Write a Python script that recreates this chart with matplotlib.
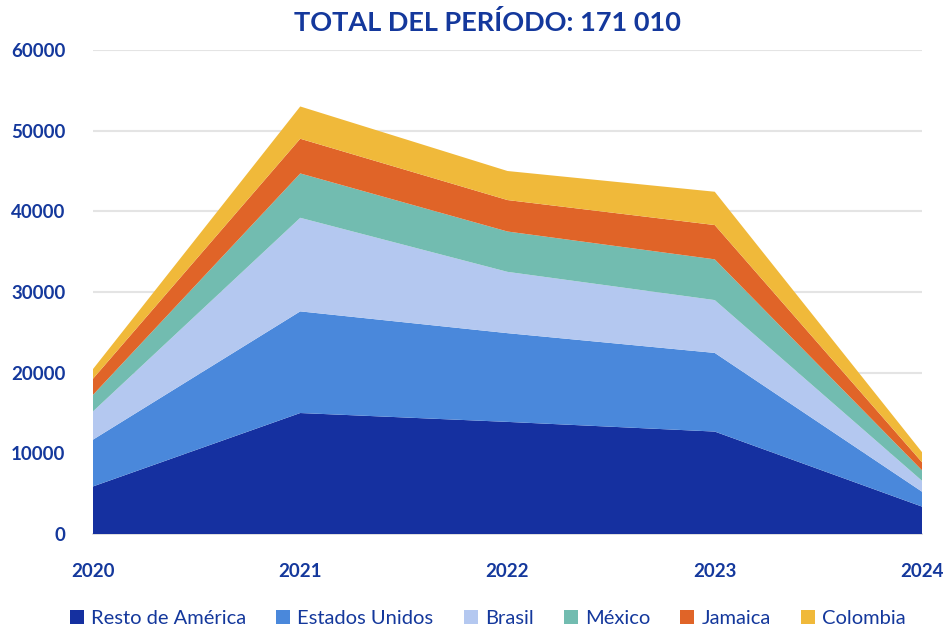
import numpy as np
import matplotlib.pyplot as plt
from matplotlib.patches import Patch

plt.rcParams['font.family'] = ['Lato', 'DejaVu Sans']

anios = [2020, 2021, 2022, 2023, 2024]
resto_america = [5900, 15000, 13900, 12700, 3400]
estados_unidos = [5800, 12600, 11000, 9750, 1850]
brasil = [3500, 11600, 7600, 6550, 1350]
mexico = [2050, 5500, 5000, 5050, 1300]
jamaica = [2000, 4300, 3900, 4250, 1000]
colombia = [1200, 4000, 3600, 4130, 1250]

nombres = ['Resto de América', 'Estados Unidos', 'Brasil', 'México', 'Jamaica', 'Colombia']
colores = ['#1530a0', '#4a88db', '#b4c8f0', '#72bcb0', '#e06428', '#f0b93a']
azul = '#14389c'

fig = plt.figure(figsize=(9.47, 6.29), dpi=100)
ax = fig.add_axes([0.0982, 0.151, 0.8754, 0.7695])

series = [resto_america, estados_unidos, brasil, mexico, jamaica, colombia]
ax.stackplot(anios, *series, colors=colores, linewidth=0, zorder=3)

ax.set_xlim(2020, 2024)
ax.set_ylim(0, 60000)
ax.set_yticks(np.arange(0, 60001, 10000))
ax.set_xticks(anios)
ax.grid(axis='y', color='#e4e4e4', linewidth=1.5, zorder=0)
for s in ['top', 'right', 'left']:
	ax.spines[s].set_visible(False)
ax.spines['bottom'].set_color('#d8d8d8')
ax.spines['bottom'].set_linewidth(1.2)
ax.tick_params(axis='both', length=0, labelcolor=azul, labelsize=13.5)
ax.tick_params(axis='y', pad=20)
ax.tick_params(axis='x', pad=21)
for lab in ax.get_xticklabels()+ax.get_yticklabels():
	lab.set_fontweight('bold')

fig.text(0.515, 0.965, 'TOTAL DEL PERÍODO: 171 010', ha='center', va='center',
		 fontsize=19.5, fontweight='bold', color=azul)

handles = [Patch(facecolor=c, edgecolor='none') for c in colores]
leg = fig.legend(handles, nombres, loc='center', bbox_to_anchor=(0.515, 0.016), ncol=6,
				 frameon=False, fontsize=14.5, handlelength=0.7, handleheight=0.7,
				 handletextpad=0.35, columnspacing=1.5)
for t in leg.get_texts():
	t.set_color(azul)

fig.savefig('out.png', dpi=100)
